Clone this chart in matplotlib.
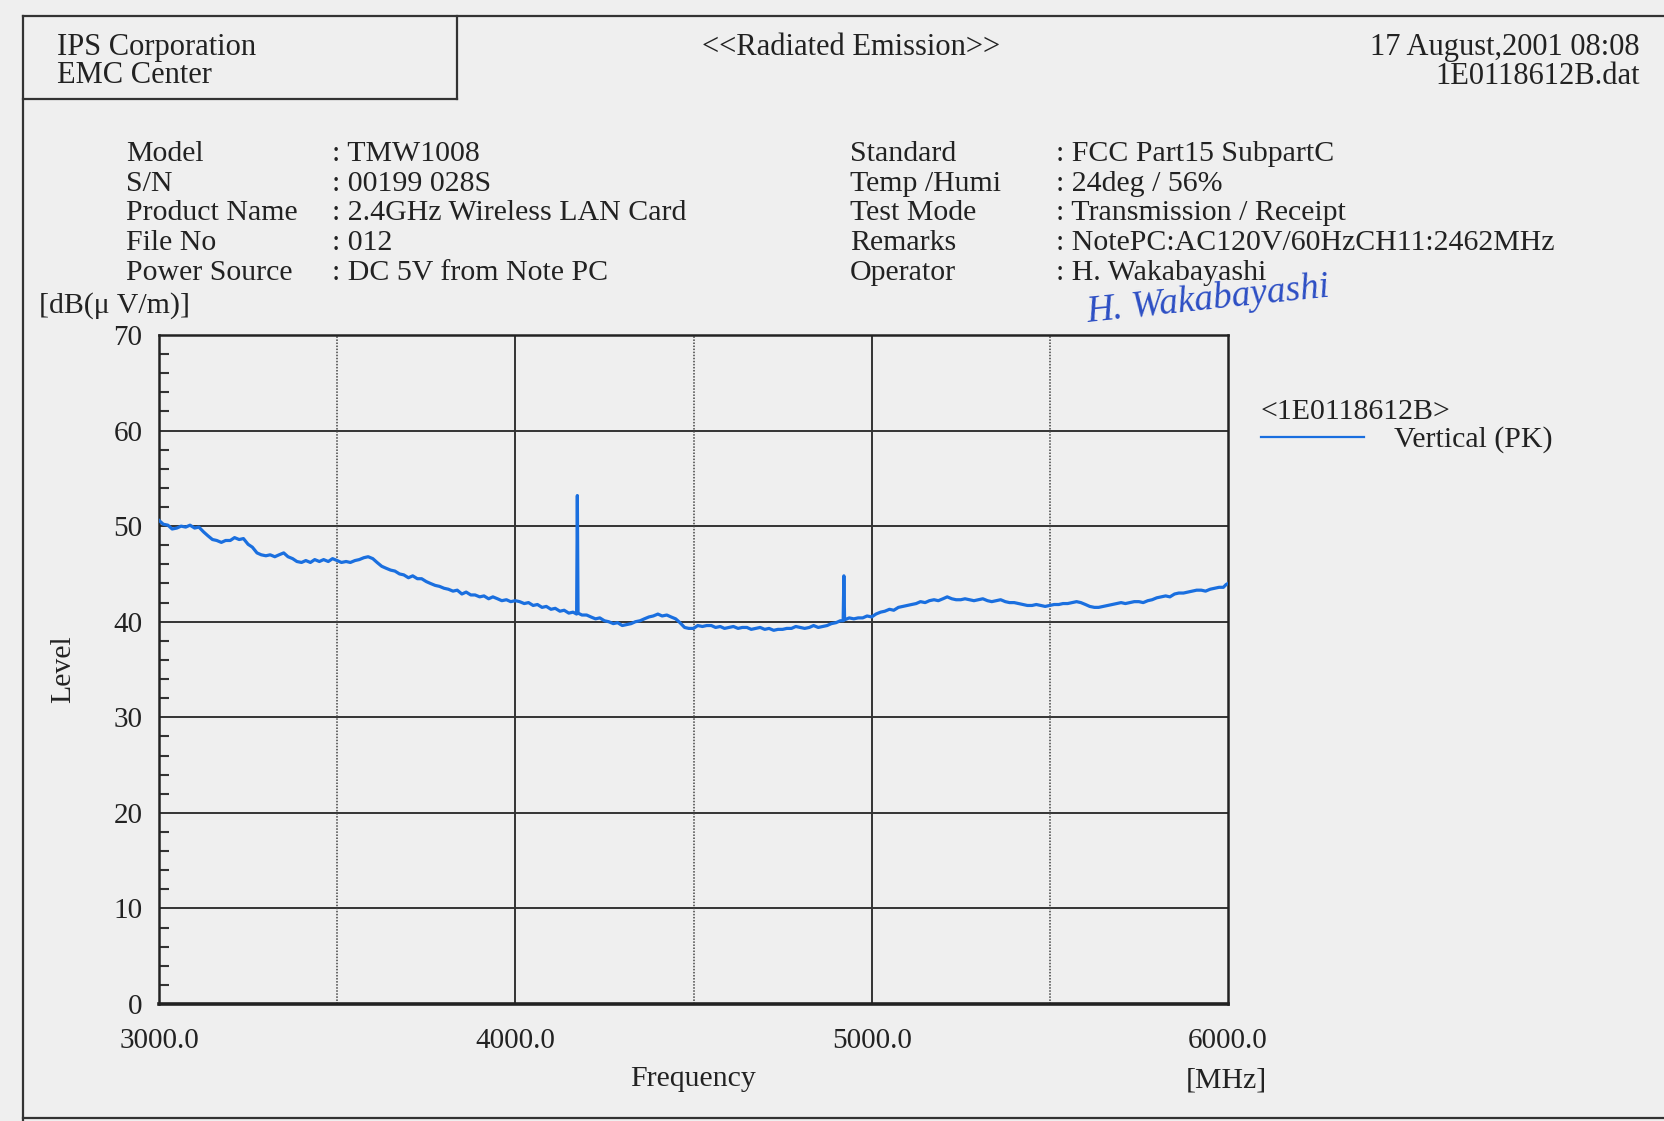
import matplotlib
matplotlib.use("Agg")
import matplotlib.pyplot as plt
from matplotlib.lines import Line2D

# ---------------- data ----------------
freq_mhz = [3000, 3012, 3025, 3037, 3050, 3062, 3075, 3087, 3100, 3112, 3125, 3137,
            3150, 3162, 3175, 3187, 3200, 3212, 3225, 3237, 3250, 3262, 3275, 3287,
            3300, 3312, 3325, 3337, 3350, 3362, 3375, 3387, 3400, 3412, 3425, 3437,
            3450, 3462, 3475, 3487, 3500, 3512, 3525, 3537, 3550, 3562, 3575, 3587,
            3600, 3612, 3625, 3637, 3650, 3662, 3675, 3687, 3700, 3712, 3725, 3737,
            3750, 3762, 3775, 3787, 3800, 3812, 3825, 3837, 3850, 3862, 3875, 3887,
            3900, 3912, 3925, 3937, 3950, 3962, 3975, 3987, 4000, 4012, 4025, 4037,
            4050, 4062, 4075, 4087, 4100, 4112, 4125, 4137, 4150, 4162, 4172, 4174,
            4176, 4187, 4200, 4212, 4225, 4237, 4250, 4262, 4275, 4287, 4300, 4312,
            4325, 4337, 4350, 4362, 4375, 4387, 4400, 4412, 4425, 4437, 4450, 4462,
            4475, 4487, 4500, 4512, 4525, 4537, 4550, 4562, 4575, 4587, 4600, 4612,
            4625, 4637, 4650, 4662, 4675, 4687, 4700, 4712, 4725, 4737, 4750, 4762,
            4775, 4787, 4800, 4812, 4825, 4837, 4850, 4862, 4875, 4887, 4900, 4912,
            4920, 4922, 4924, 4937, 4950, 4962, 4975, 4987, 5000, 5012, 5025, 5037,
            5050, 5062, 5075, 5087, 5100, 5112, 5125, 5137, 5150, 5162, 5175, 5187,
            5200, 5212, 5225, 5237, 5250, 5262, 5275, 5287, 5300, 5312, 5325, 5337,
            5350, 5362, 5375, 5387, 5400, 5412, 5425, 5437, 5450, 5462, 5475, 5487,
            5500, 5512, 5525, 5537, 5550, 5562, 5575, 5587, 5600, 5612, 5625, 5637,
            5650, 5662, 5675, 5687, 5700, 5712, 5725, 5737, 5750, 5762, 5775, 5787,
            5800, 5812, 5825, 5837, 5850, 5862, 5875, 5887, 5900, 5912, 5925, 5937,
            5950, 5962, 5975, 5987, 5995, 6000]

level_dbuv = [50.6, 50.2, 50.1, 49.7, 49.8, 50.0, 49.9, 50.1, 49.8, 49.9, 49.4, 49.0,
              48.6, 48.5, 48.3, 48.5, 48.5, 48.8, 48.6, 48.7, 48.1, 47.8, 47.2, 47.0,
              46.9, 47.0, 46.8, 47.0, 47.2, 46.8, 46.6, 46.3, 46.2, 46.4, 46.2, 46.5,
              46.3, 46.5, 46.3, 46.6, 46.4, 46.2, 46.3, 46.2, 46.4, 46.5, 46.7, 46.8,
              46.6, 46.2, 45.8, 45.6, 45.4, 45.3, 45.0, 44.9, 44.6, 44.8, 44.5, 44.5,
              44.2, 44.0, 43.8, 43.7, 43.5, 43.4, 43.2, 43.3, 42.9, 43.1, 42.8, 42.8,
              42.6, 42.7, 42.4, 42.6, 42.4, 42.2, 42.3, 42.1, 42.2, 42.1, 41.9, 42.0,
              41.7, 41.8, 41.5, 41.6, 41.3, 41.4, 41.1, 41.2, 40.9, 41.0, 40.8, 53.2,
              40.9, 40.7, 40.7, 40.5, 40.3, 40.4, 40.1, 40.0, 39.8, 39.9, 39.6, 39.7,
              39.8, 40.0, 40.1, 40.3, 40.5, 40.6, 40.8, 40.6, 40.7, 40.5, 40.3, 39.9,
              39.4, 39.3, 39.3, 39.6, 39.5, 39.6, 39.6, 39.4, 39.5, 39.3, 39.4, 39.5,
              39.3, 39.4, 39.4, 39.2, 39.3, 39.4, 39.2, 39.3, 39.1, 39.2, 39.2, 39.3,
              39.3, 39.5, 39.4, 39.3, 39.4, 39.6, 39.4, 39.5, 39.6, 39.8, 39.9, 40.1,
              40.1, 44.8, 40.2, 40.4, 40.3, 40.4, 40.4, 40.6, 40.5, 40.8, 41.0, 41.1,
              41.3, 41.2, 41.5, 41.6, 41.7, 41.8, 41.9, 42.1, 42.0, 42.2, 42.3, 42.2,
              42.4, 42.6, 42.4, 42.3, 42.3, 42.4, 42.3, 42.2, 42.3, 42.4, 42.2, 42.1,
              42.2, 42.3, 42.1, 42.0, 42.0, 41.9, 41.8, 41.7, 41.7, 41.8, 41.7, 41.6,
              41.7, 41.8, 41.8, 41.9, 41.9, 42.0, 42.1, 42.0, 41.8, 41.6, 41.5, 41.5,
              41.6, 41.7, 41.8, 41.9, 42.0, 41.9, 42.0, 42.1, 42.1, 42.0, 42.2, 42.3,
              42.5, 42.6, 42.7, 42.6, 42.9, 43.0, 43.0, 43.1, 43.2, 43.3, 43.3, 43.2,
              43.4, 43.5, 43.6, 43.6, 43.9, 44.0]

x_ticks = [3000, 4000, 5000, 6000]
x_tick_labels = ["3000.0", "4000.0", "5000.0", "6000.0"]
y_ticks = [0, 10, 20, 30, 40, 50, 60, 70]

info_left_labels = ["Model", "S/N", "Product Name", "File No", "Power Source"]
info_left_values = [": TMW1008", ": 00199 028S", ": 2.4GHz Wireless LAN Card", ": 012",
                    ": DC 5V from Note PC"]
info_right_labels = ["Standard", "Temp /Humi", "Test Mode", "Remarks", "Operator"]
info_right_values = [": FCC Part15 SubpartC", ": 24deg / 56%", ": Transmission / Receipt",
                     ": NotePC:AC120V/60HzCH11:2462MHz", ": H. Wakabayashi"]

# ---------------- figure ----------------
W, H = 1664, 1121
BG = "#efefef"
INK = "#222222"
LINE = "#1a6fdf"
FONT = "Liberation Serif"
plt.rcParams["font.family"] = [FONT, "DejaVu Serif"]

fig = plt.figure(figsize=(W / 100, H / 100), dpi=100, facecolor=BG)

# page overlay in pixel coordinates
pg = fig.add_axes([0, 0, 1, 1], zorder=0)
pg.set_xlim(0, W)
pg.set_ylim(H, 0)
pg.axis("off")
pg.patch.set_alpha(0)

lw_frame = 1.6
for (x0, y0, x1, y1) in [(23, 16, 23, H), (23, 16, W, 16), (23, 1118, W, 1118),
                         (457, 16, 457, 99), (23, 99, 457, 99)]:
    pg.add_line(Line2D([x0, x1], [y0, y1], color="#333333", lw=lw_frame))

pg.text(57, 55, "IPS Corporation", fontsize=22, color=INK, va="baseline")
pg.text(57, 83, "EMC Center", fontsize=22, color=INK, va="baseline")
pg.text(851, 55, "<<Radiated Emission>>", fontsize=22, color=INK, va="baseline", ha="center")
pg.text(1640, 55, "17 August,2001 08:08", fontsize=22, color=INK, va="baseline", ha="right")
pg.text(1640, 84, "1E0118612B.dat", fontsize=22, color=INK, va="baseline", ha="right")

row_y = [161, 191, 220, 250, 280]
for i, y in enumerate(row_y):
    pg.text(126, y, info_left_labels[i], fontsize=21.5, color=INK, va="baseline")
    pg.text(332, y, info_left_values[i], fontsize=21.5, color=INK, va="baseline")
    pg.text(850, y, info_right_labels[i], fontsize=21.5, color=INK, va="baseline")
    pg.text(1056, y, info_right_values[i], fontsize=21.5, color=INK, va="baseline")

# signature
pg.text(1085, 322, "H. Wakabayashi", fontsize=27, color="#2d4fc4", style="italic",
        rotation=6, va="baseline", family="Liberation Serif")

pg.text(39, 313, "[dB(μ V/m)]", fontsize=21.5, color=INK, va="baseline")
pg.text(1226, 1087, "[MHz]", fontsize=21.5, color=INK, va="baseline", ha="center")

# legend (manual)
pg.text(1261, 419, "<1E0118612B>", fontsize=21.5, color=INK, va="baseline")
pg.add_line(Line2D([1261, 1364], [437, 437], color=LINE, lw=1.6))
pg.text(1394, 447, "Vertical (PK)", fontsize=21.5, color=INK, va="baseline")

# ---------------- plot ----------------
ax = fig.add_axes([159 / W, 1 - 1004 / H, (1228 - 159) / W, (1004 - 335) / H], zorder=1)
ax.set_facecolor("none")
ax.set_xlim(3000, 6000)
ax.set_ylim(0, 70)

# grid
for yv in range(10, 70, 10):
    ax.axhline(yv, color="#333333", lw=1.4, zorder=1)
for xv in [4000, 5000]:
    ax.axvline(xv, color="#333333", lw=1.4, zorder=1)
for xv in [3500, 4500, 5500]:
    ax.axvline(xv, color="#444444", lw=1.1, ls=(0, (1, 1)), zorder=1)

ax.plot(freq_mhz, level_dbuv, color=LINE, lw=2.3, zorder=3)

for s in ax.spines.values():
    s.set_color("#222222")
    s.set_linewidth(1.8)
ax.spines["bottom"].set_linewidth(2.6)

ax.set_xticks(x_ticks)
ax.set_xticklabels(x_tick_labels)
ax.set_yticks(y_ticks)
ax.set_yticks([v for v in range(2, 70, 2) if v % 10 != 0], minor=True)
ax.tick_params(axis="y", which="major", length=0, pad=12, labelsize=21, labelcolor=INK)
ax.tick_params(axis="y", which="minor", direction="in", length=7, width=1.5, color="#333333")
ax.tick_params(axis="x", which="major", length=0, pad=17, labelsize=21, labelcolor=INK)

ax.set_xlabel("Frequency", fontsize=21.5, color=INK, labelpad=9)
ax.set_ylabel("Level", fontsize=21.5, color=INK, labelpad=27)

fig.savefig("out.png", dpi=100, facecolor=BG)
